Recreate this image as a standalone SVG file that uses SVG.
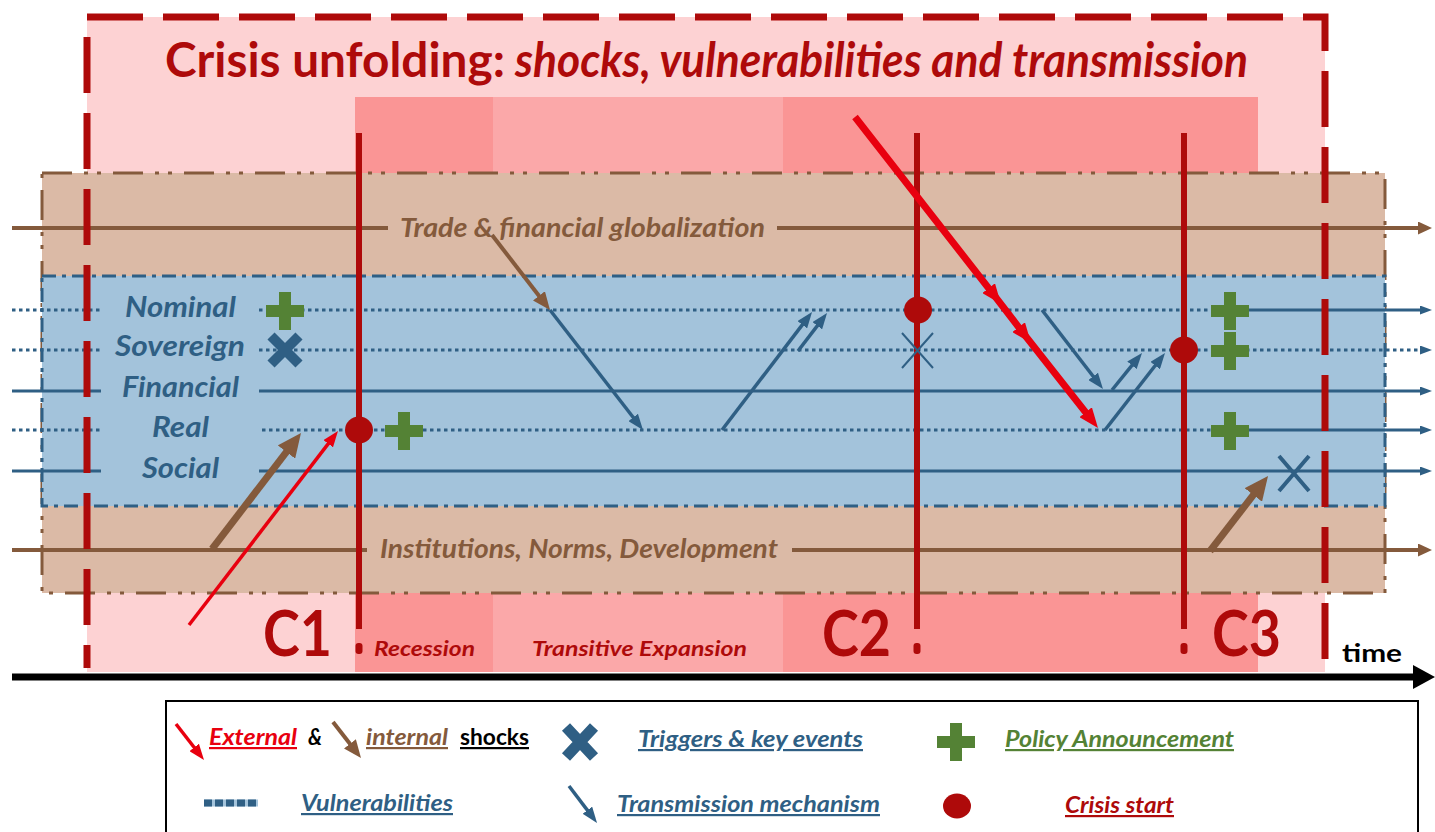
<svg xmlns="http://www.w3.org/2000/svg" width="1435" height="832" viewBox="0 0 1435 832">
<style>
.t{font-family:Lato,"Open Sans","Liberation Sans",sans-serif;font-weight:700}
.i{font-style:italic}
.dr{fill:#AE0A0A}
.bl{fill:#2F5F84}
.br{fill:#845A3C}
.gr{fill:#548235}
.vl{stroke:#2F5F84;stroke-width:3;fill:none}
.dt{stroke-dasharray:3.5 3.5}
.bline{stroke:#845A3C;stroke-width:4;fill:none}
.cr{stroke:#AE0A0A;stroke-width:6;fill:none}
.obox{stroke:#AE0A0A;stroke-width:7;fill:none;stroke-dasharray:56 20}
.tm{stroke:#2F5F84;stroke-width:3.5;fill:none;marker-end:url(#mB)}
.xk{stroke:#2F5F84;fill:none}
.u{text-decoration:underline}
</style>
<defs>
<marker id="mB" viewBox="0 0 16 12" refX="9" refY="6" markerWidth="16" markerHeight="12" markerUnits="userSpaceOnUse" orient="auto"><path d="M0,0 L16,6 L0,12 z" fill="#2F5F84"/></marker>
<marker id="mL" viewBox="0 0 12 9" refX="7" refY="4.5" markerWidth="12" markerHeight="9" markerUnits="userSpaceOnUse" orient="auto"><path d="M0,0 L12,4.5 L0,9 z" fill="#2F5F84"/></marker>
<marker id="mBrH" viewBox="0 0 14 13" refX="9" refY="6.5" markerWidth="14" markerHeight="13" markerUnits="userSpaceOnUse" orient="auto"><path d="M0,0 L14,6.5 L0,13 z" fill="#845A3C"/></marker>
<marker id="mR" viewBox="0 0 20 16" refX="10" refY="8" markerWidth="20" markerHeight="16" markerUnits="userSpaceOnUse" orient="auto"><path d="M0,0 L20,8 L0,16 z" fill="#E8000F"/></marker>
<marker id="mRs" viewBox="0 0 16 12" refX="9" refY="6" markerWidth="16" markerHeight="12" markerUnits="userSpaceOnUse" orient="auto"><path d="M0,0 L16,6 L0,12 z" fill="#E8000F"/></marker>
<marker id="mBr" viewBox="0 0 24 22" refX="14" refY="11" markerWidth="24" markerHeight="22" markerUnits="userSpaceOnUse" orient="auto"><path d="M0,0 L24,11 L0,22 z" fill="#845A3C"/></marker>
<marker id="mBm" viewBox="0 0 18 15" refX="11" refY="7.5" markerWidth="18" markerHeight="15" markerUnits="userSpaceOnUse" orient="auto"><path d="M0,0 L18,7.5 L0,15 z" fill="#845A3C"/></marker>
<path id="plus" d="M-6,-19 h12 v13 h13 v12 h-13 v13 h-12 v-13 h-13 v-12 h13 z" fill="#548235"/>
</defs>

<g id="background">
<rect x="87" y="17" width="1238" height="655" fill="#FDD2D3"/>
<rect x="355" y="97" width="138" height="575" fill="#FA9595"/>
<rect x="493" y="97" width="290" height="575" fill="#FBA8A9"/>
<rect x="783" y="97" width="475" height="575" fill="#FA9595"/>
</g>

<g id="title">
<text class="t dr" x="165" y="77" font-size="47" textLength="340" lengthAdjust="spacingAndGlyphs">Crisis unfolding:</text>
<text class="t i dr" x="515" y="77" font-size="47" textLength="733" lengthAdjust="spacingAndGlyphs">shocks, vulnerabilities and transmission</text>
</g>

<g id="band-structural">
<rect x="42" y="173" width="1343" height="420" fill="#DBBAA6" stroke="#845A3C" stroke-width="3" stroke-dasharray="30 12 4 9 4 12"/>
</g>
<g id="band-vulnerabilities">
<rect x="42" y="276" width="1343" height="230" fill="#A3C3DB" stroke="#2F5F84" stroke-width="3" stroke-dasharray="14 6 4 6"/>
</g>

<g id="structural-lines">
<path class="bline" d="M12,228 H388"/>
<path class="bline" d="M777,228 H1427" marker-end="url(#mBrH)"/>
<text class="t i br" x="400" y="237" font-size="26" textLength="365" lengthAdjust="spacingAndGlyphs">Trade &amp; financial globalization</text>
<path class="bline" d="M12,550 H367"/>
<path class="bline" d="M792,550 H1427" marker-end="url(#mBrH)"/>
<text class="t i br" x="380" y="558" font-size="26" textLength="398" lengthAdjust="spacingAndGlyphs">Institutions, Norms, Development</text>
</g>

<g id="vulnerability-lines">
<path class="vl dt" d="M12,310 H101 M259,310 H1230"/>
<path class="vl" d="M1230,310 H1427" marker-end="url(#mL)"/>
<path class="vl dt" d="M12,350 H101"/>
<path class="vl dt" d="M259,350 H1427" marker-end="url(#mL)"/>
<path class="vl" d="M12,391 H101"/>
<path class="vl" d="M259,391 H1427" marker-end="url(#mL)"/>
<path class="vl dt" d="M12,430 H101 M262,430 H1230"/>
<path class="vl" d="M1230,430 H1427" marker-end="url(#mL)"/>
<path class="vl" d="M12,471 H101"/>
<path class="vl" d="M259,471 H1427" marker-end="url(#mL)"/>
<text class="t i bl" x="125" y="317" font-size="28" textLength="111" lengthAdjust="spacingAndGlyphs">Nominal</text>
<text class="t i bl" x="115" y="356" font-size="28" textLength="130" lengthAdjust="spacingAndGlyphs">Sovereign</text>
<text class="t i bl" x="122" y="397" font-size="28" textLength="117" lengthAdjust="spacingAndGlyphs">Financial</text>
<text class="t i bl" x="152" y="437" font-size="28" textLength="57" lengthAdjust="spacingAndGlyphs">Real</text>
<text class="t i bl" x="142" y="478" font-size="28" textLength="77" lengthAdjust="spacingAndGlyphs">Social</text>
</g>

<g id="outer-frame">
<path class="obox" d="M87,17 H1325 V660"/>
<path class="obox" d="M87,37 V668"/>
</g>

<g id="crisis-C1">
<path class="cr" d="M359,133 V629"/>
<rect x="355.5" y="643" width="7" height="11" rx="3" fill="#AE0A0A"/>
<text class="t dr" x="263" y="656" font-size="63" textLength="69" lengthAdjust="spacingAndGlyphs">C1</text>
</g>
<g id="crisis-C2">
<path class="cr" d="M917,133 V629"/>
<rect x="913.5" y="643" width="7" height="11" rx="3" fill="#AE0A0A"/>
<text class="t dr" x="822" y="656" font-size="63" textLength="69" lengthAdjust="spacingAndGlyphs">C2</text>
</g>
<g id="crisis-C3">
<path class="cr" d="M1184,133 V629"/>
<rect x="1180.5" y="643" width="7" height="11" rx="3" fill="#AE0A0A"/>
<text class="t dr" x="1212" y="656" font-size="63" textLength="69" lengthAdjust="spacingAndGlyphs">C3</text>
</g>

<g id="phases">
<text class="t i dr" x="374" y="656" font-size="21" textLength="101" lengthAdjust="spacingAndGlyphs">Recession</text>
<text class="t i dr" x="532" y="656" font-size="21" textLength="215" lengthAdjust="spacingAndGlyphs">Transitive Expansion</text>
</g>

<g id="connectors">
<path class="tm" d="M550,310 L638.7,424.5"/>
<path class="tm" d="M722,430 L807.8,317.6"/>
<path class="tm" d="M798,351 L822.8,318.6"/>
<path class="tm" d="M1042,310 L1098.7,383.5"/>
<path class="tm" d="M1112,390 L1137.6,358.4"/>
<path class="tm" d="M1105,430 L1160.7,358.5"/>
<path d="M492,235 L545.7,304.5" stroke="#845A3C" stroke-width="4" fill="none" marker-end="url(#mBm)"/>
<path d="M212,549 L294.9,440.9" stroke="#845A3C" stroke-width="7" fill="none" marker-end="url(#mBr)"/>
<path d="M1210,551 L1261.9,483.9" stroke="#845A3C" stroke-width="7" fill="none" marker-end="url(#mBr)"/>
<path d="M189,625 L333.7,436.6" stroke="#E8000F" stroke-width="3.5" fill="none" marker-end="url(#mRs)"/>
<path d="M855,117 L994.8,296.1 L1024.8,335.1 L1091.8,420.1" stroke="#E8000F" stroke-width="7" fill="none" marker-mid="url(#mR)" marker-end="url(#mR)"/>
</g>

<g id="events">
<path class="xk" stroke-width="10" d="M271,336 L299,364 M299,336 L271,364"/>
<path class="xk" stroke-width="2" d="M902,333 L933,368 M933,333 L902,368"/>
<path class="xk" stroke-width="4" d="M1279,456 L1309,491 M1309,456 L1279,491"/>
<use href="#plus" x="285" y="311"/>
<use href="#plus" x="404" y="431"/>
<use href="#plus" x="1230" y="311"/>
<use href="#plus" x="1230" y="351"/>
<use href="#plus" x="1230" y="431"/>
<ellipse cx="359" cy="430" rx="14" ry="13.5" fill="#AE0A0A"/>
<ellipse cx="918" cy="310" rx="14" ry="13.5" fill="#AE0A0A"/>
<ellipse cx="1184" cy="350" rx="14" ry="13.5" fill="#AE0A0A"/>
</g>

<g id="timeline">
<path d="M12,677 H1418" stroke="#000" stroke-width="7"/>
<path d="M1413,665 L1435,677 L1413,689 z" fill="#000"/>
<text class="t" x="1342" y="662" font-size="25" fill="#000" textLength="60" lengthAdjust="spacingAndGlyphs">time</text>
</g>

<g id="legend">
<rect x="166" y="701" width="1252" height="150" fill="#fff" stroke="#000" stroke-width="2"/>
<path d="M176,724 L199.7,754.5" stroke="#E8000F" stroke-width="3.5" fill="none" marker-end="url(#mRs)"/>
<text class="t i u" x="209" y="745" font-size="22" fill="#E8000F" textLength="88" lengthAdjust="spacingAndGlyphs">External</text>
<text class="t" x="308" y="745" font-size="22" font-weight="400" font-style="italic" fill="#000" textLength="14" lengthAdjust="spacingAndGlyphs">&amp;</text>
<path d="M333,722 L356.7,752.5" stroke="#845A3C" stroke-width="4" fill="none" marker-end="url(#mBm)"/>
<text class="t i u br" x="366" y="745" font-size="22" textLength="82" lengthAdjust="spacingAndGlyphs">internal</text>
<text class="t u" x="460" y="745" font-size="22" fill="#000" textLength="69" lengthAdjust="spacingAndGlyphs">shocks</text>
<path class="xk" stroke-width="11" d="M566,727 L594,757 M594,727 L566,757"/>
<text class="t i u bl" x="638" y="747" font-size="22" textLength="225" lengthAdjust="spacingAndGlyphs">Triggers &amp; key events</text>
<use href="#plus" x="956" y="742"/>
<text class="t i u gr" x="1005" y="747" font-size="22" textLength="229" lengthAdjust="spacingAndGlyphs">Policy Announcement</text>
<path d="M204,803 H258" stroke="#A3C3DB" stroke-width="7"/>
<path d="M204,803 H258" stroke="#2F5F84" stroke-width="7" stroke-dasharray="8 3"/>
<text class="t i u bl" x="301" y="811" font-size="22" textLength="152" lengthAdjust="spacingAndGlyphs">Vulnerabilities</text>
<path class="tm" d="M569,786 L592.8,817.4"/>
<text class="t i u bl" x="617" y="812" font-size="22" textLength="263" lengthAdjust="spacingAndGlyphs">Transmission mechanism</text>
<ellipse cx="957" cy="806" rx="14" ry="12.5" fill="#AE0A0A"/>
<text class="t i u dr" x="1065" y="813" font-size="22" textLength="109" lengthAdjust="spacingAndGlyphs">Crisis start</text>
</g>
</svg>
